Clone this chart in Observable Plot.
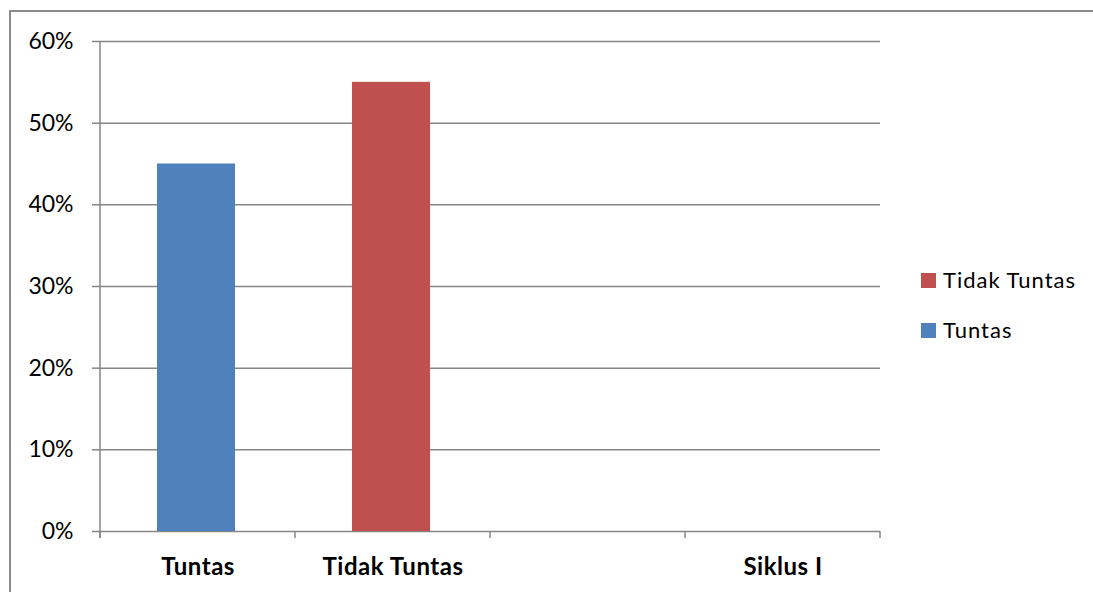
<!DOCTYPE html>
<html>
<head>
<meta charset="utf-8">
<script src="https://cdn.jsdelivr.net/npm/d3@7"></script>
<script src="https://cdn.jsdelivr.net/npm/@observablehq/plot@0.6"></script>
<style>
  html, body { margin: 0; padding: 0; background: #fff; }
  #wrap { position: relative; width: 1093px; height: 592px; overflow: hidden; font-family: Lato, "Open Sans", sans-serif; }
  #border { position: absolute; left: 9px; top: 10px; width: 1200px; height: 700px; border-left: 2px solid #8a8a8a; border-top: 2px solid #8a8a8a; }
  #chart { position: absolute; left: 0; top: 0; }
  #legend { position: absolute; left: 0; top: 0; }
</style>
</head>
<body>
<div id="wrap">
  <div id="border"></div>
  <div id="chart"></div>
  <svg id="legend" width="1093" height="592"></svg>
</div>
<script>
// Data
const categories = ["Tuntas", "Tidak Tuntas", "", "Siklus I"];
const seriesNames = ["Tuntas", "Tidak Tuntas"];
const seriesValues = [0.45, 0.55];
const seriesColors = ["#4F81BD", "#C0504D"];
const yTicks = [0, 0.1, 0.2, 0.3, 0.4, 0.5, 0.6];
const legendOrder = ["Tidak Tuntas", "Tuntas"];

const rows = seriesNames.map((name, i) => ({ category: name, value: seriesValues[i], color: seriesColors[i] }));
const gridColor = "#868686";

const chart = Plot.plot({
  width: 1093,
  height: 592,
  marginLeft: 100,
  marginRight: 213,
  marginTop: 41,
  marginBottom: 61,
  style: { fontFamily: "Lato, 'Open Sans', sans-serif", background: "transparent", color: "#000" },
  x: { domain: categories, padding: 0 },
  y: { domain: [0, 0.6] },
  marks: [
    Plot.gridY(yTicks, { stroke: gridColor, strokeOpacity: 1, strokeWidth: 1.5 }),
    Plot.barY(rows, { x: "category", y: "value", fill: "color", insetLeft: 57, insetRight: 60 }),
    Plot.axisY(yTicks, { tickFormat: d => Math.round(d * 100) + "%", tickSize: 8, tickPadding: 19, fontSize: 23, stroke: gridColor, strokeWidth: 1.5, label: null }),
    Plot.axisX({ tickSize: 0, tickPadding: 26, fontSize: 24, fontWeight: "bold", label: null })
  ]
});
document.getElementById("chart").appendChild(chart);
d3.select(chart).selectAll("[aria-label='x-axis tick label'] text").attr("letter-spacing", "0.5px");

// Axis line and category boundary ticks, from the chart's scales
const xs = chart.scale("x");
const ys = chart.scale("y");
const svg = d3.select(chart);
const bounds = categories.map(c => xs.apply(c));
bounds.push(xs.apply(categories[categories.length - 1]) + xs.bandwidth);
const y0 = ys.apply(0), yTop = ys.apply(0.6);
const g = svg.append("g").attr("stroke", gridColor).attr("stroke-width", 1.5);
g.append("line").attr("x1", bounds[0]).attr("x2", bounds[0]).attr("y1", yTop).attr("y2", y0 + 7);
bounds.forEach(b => g.append("line").attr("x1", b).attr("x2", b).attr("y1", y0).attr("y2", y0 + 7));

// Legend
const colorOf = Object.fromEntries(seriesNames.map((n, i) => [n, seriesColors[i]]));
const leg = d3.select("#legend");
legendOrder.forEach((name, i) => {
  const top = 273 + i * 50;
  leg.append("rect").attr("x", 921).attr("y", top).attr("width", 15).attr("height", 15).attr("fill", colorOf[name]);
  leg.append("text").attr("x", 943).attr("y", top + 14.5).attr("font-size", 22).attr("letter-spacing", "1px")
    .attr("font-family", "Lato, 'Open Sans', sans-serif").attr("fill", "#000").text(name);
});
</script>
</body>
</html>
